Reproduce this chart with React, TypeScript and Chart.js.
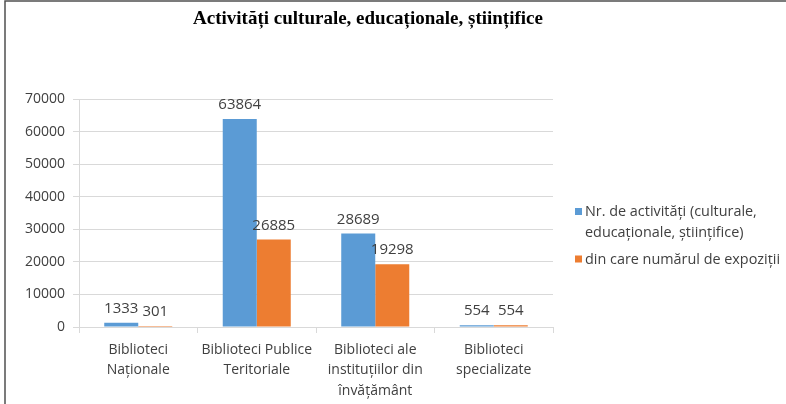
import React, { useEffect, useRef } from "react";
import { Chart, registerables } from "chart.js";

Chart.register(...registerables);

const chartTitle = "Activități culturale, educaționale, științifice";
const categories = [
  ["Biblioteci", "Naționale"],
  ["Biblioteci Publice", "Teritoriale"],
  ["Biblioteci ale", "instituțiilor din", "învățământ"],
  ["Biblioteci", "specializate"],
];
const activitati = [1333, 63864, 28689, 554];
const expozitii = [301, 26885, 19298, 554];
const seriesNames = [
  ["Nr. de activități (culturale,", "educaționale, științifice)"],
  ["din care numărul de expoziții"],
];
const seriesColors = ["#5B9BD5", "#ED7D31"];
const yMax = 70000;
const yStep = 10000;

const FONT = "'Open Sans', sans-serif";
const TEXT = "#404040";

const framePlugin = {
  id: "frame",
  beforeDraw(chart: any) {
    const ctx = chart.ctx;
    ctx.save();
    ctx.strokeStyle = "#505050";
    ctx.lineWidth = 1.5;
    ctx.beginPath();
    ctx.moveTo(5, chart.height);
    ctx.lineTo(5, 1);
    ctx.lineTo(chart.width, 1);
    ctx.stroke();
    ctx.restore();
  },
};

const titlePlugin = {
  id: "customTitle",
  afterDraw(chart: any) {
    const ctx = chart.ctx;
    ctx.save();
    ctx.font = "bold 19px 'Liberation Serif', serif";
    ctx.fillStyle = "#000";
    ctx.textAlign = "center";
    ctx.textBaseline = "middle";
    ctx.fillText(chartTitle, 368, 19.5);
    ctx.restore();
  },
};

const valueLabelPlugin = {
  id: "valueLabels",
  afterDatasetsDraw(chart: any) {
    const ctx = chart.ctx;
    ctx.save();
    ctx.font = `15px ${FONT}`;
    ctx.fillStyle = TEXT;
    ctx.textAlign = "center";
    ctx.textBaseline = "middle";
    chart.data.datasets.forEach((ds: any, i: number) => {
      const meta = chart.getDatasetMeta(i);
      meta.data.forEach((el: any, j: number) => {
        ctx.fillText(String(ds.data[j]), el.x, el.y - 14);
      });
    });
    ctx.restore();
  },
};

const legendPlugin = {
  id: "sideLegend",
  afterDraw(chart: any) {
    const ctx = chart.ctx;
    const area = chart.chartArea;
    const x0 = area.right + 22;
    let y = area.top + 113;
    const lh = 21;
    ctx.save();
    ctx.font = `14.4px ${FONT}`;
    ctx.textAlign = "left";
    ctx.textBaseline = "middle";
    seriesNames.forEach((lines, i) => {
      ctx.fillStyle = seriesColors[i];
      ctx.fillRect(x0, y - 4, 7, 7);
      ctx.fillStyle = TEXT;
      lines.forEach((ln, k) => {
        ctx.fillText(ln, x0 + 10, y + k * lh);
      });
      y += lines.length * lh + 5.5;
    });
    ctx.restore();
  },
};

export default function App() {
  const ref = useRef<HTMLCanvasElement | null>(null);
  useEffect(() => {
    if (!ref.current) return;
    const chart = new Chart(ref.current, {
      type: "bar",
      data: {
        labels: categories,
        datasets: [
          {
            label: seriesNames[0].join(" "),
            data: activitati,
            backgroundColor: seriesColors[0],
            categoryPercentage: 0.574,
            barPercentage: 1,
          },
          {
            label: seriesNames[1].join(" "),
            data: expozitii,
            backgroundColor: seriesColors[1],
            categoryPercentage: 0.574,
            barPercentage: 1,
          },
        ],
      },
      options: {
        animation: false,
        responsive: false,
        maintainAspectRatio: false,
        layout: { padding: { left: 0, right: 233, top: 99, bottom: 0 } },
        plugins: {
          legend: { display: false },
          title: { display: false },
          tooltip: { enabled: false },
        },
        scales: {
          x: {
            afterFit(scale: any) {
              scale.height = 77;
            },
            grid: {
              drawOnChartArea: false,
              drawTicks: true,
              tickLength: 6,
              color: "#D9D9D9",
              offset: true,
            },
            border: { display: true, color: "#D9D9D9" },
            ticks: {
              font: { family: FONT, size: 14, lineHeight: 1.45 },
              color: TEXT,
              padding: 7,
              maxRotation: 0,
              autoSkip: false,
            },
          },
          y: {
            min: 0,
            max: yMax,
            afterFit(scale: any) {
              scale.width = 79;
            },
            grid: {
              color: "#D9D9D9",
              drawTicks: true,
              tickLength: 6,
            },
            border: { display: true, color: "#D9D9D9" },
            ticks: {
              stepSize: yStep,
              font: { family: FONT, size: 14 },
              color: TEXT,
              padding: 8,
              callback: (v: any) => String(v),
            },
          },
        },
      },
      plugins: [framePlugin, valueLabelPlugin, legendPlugin, titlePlugin],
    });
    return () => chart.destroy();
  }, []);
  return (
    <div style={{ position: "fixed", left: 0, top: 0, width: 786, height: 404, background: "#fff" }}>
      <canvas ref={ref} width={786} height={404} style={{ display: "block", width: 786, height: 404 }} />
    </div>
  );
}
